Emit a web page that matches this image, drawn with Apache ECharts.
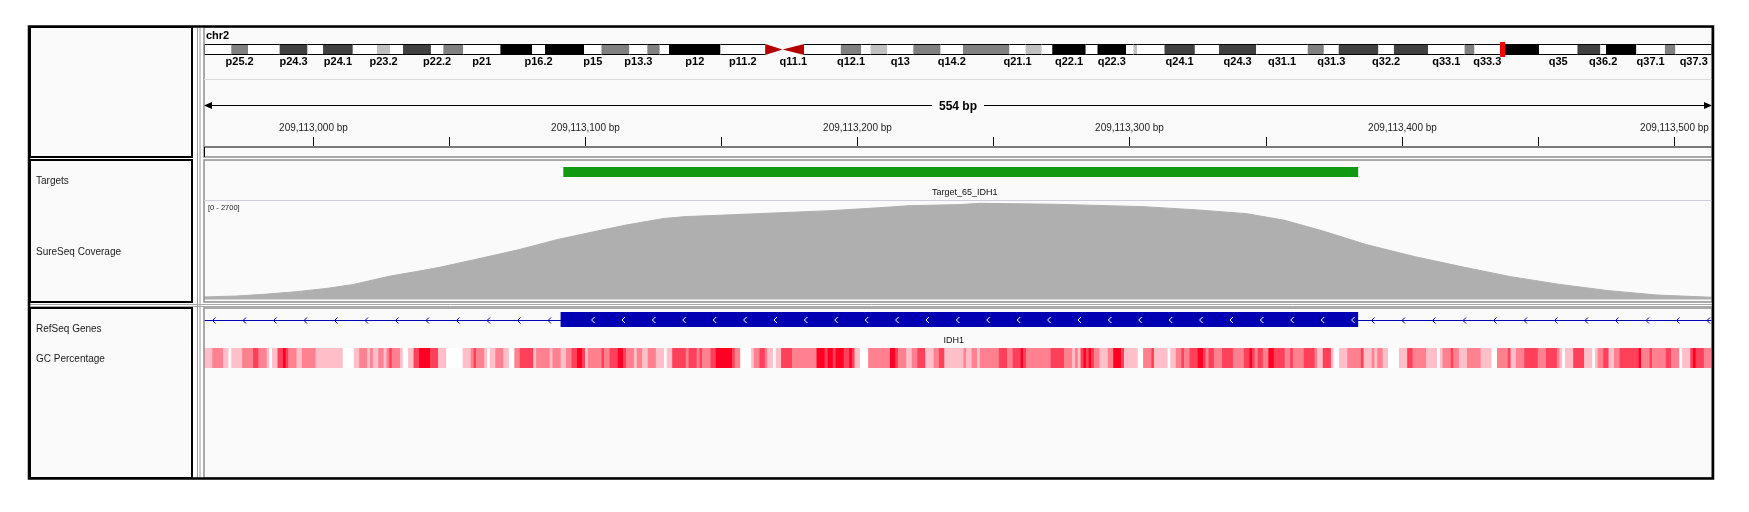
<!DOCTYPE html>
<html>
<head>
<meta charset="utf-8">
<script src="https://cdn.jsdelivr.net/npm/echarts@6/dist/echarts.min.js"></script>
<style>
  html, body { margin: 0; padding: 0; background: #fff; }
  #chart { width: 1749px; height: 512px; }
</style>
</head>
<body>
<div id="chart"></div>
<script>
// chromosome ideogram (hg19 chr2 cytobands)
const chrName = 'chr2';
const chrLength = 243199373;
const bandStarts = [0, 4400000, 7100000, 12200000, 16700000, 19200000, 24000000, 27900000, 30000000,
  32100000, 36600000, 38600000, 41800000, 47800000, 52900000, 55000000, 61300000, 64100000, 68600000,
  71500000, 73500000, 75000000, 83300000, 90500000, 93300000, 96800000, 102700000, 106000000, 107500000,
  110200000, 114400000, 118800000, 122400000, 129900000, 132500000, 135100000, 136800000, 142200000,
  144100000, 148700000, 149900000, 150500000, 154900000, 159800000, 163700000, 169700000, 178000000,
  180600000, 183000000, 189400000, 191900000, 197400000, 203300000, 204900000, 209000000, 215300000,
  221500000, 225200000, 226100000, 231000000, 235600000, 237300000];
const bandNames = ['p25.3', 'p25.2', 'p25.1', 'p24.3', 'p24.2', 'p24.1', 'p23.3', 'p23.2', 'p23.1',
  'p22.3', 'p22.2', 'p22.1', 'p21', 'p16.3', 'p16.2', 'p16.1', 'p15', 'p14', 'p13.3', 'p13.2', 'p13.1',
  'p12', 'p11.2', 'p11.1', 'q11.1', 'q11.2', 'q12.1', 'q12.2', 'q12.3', 'q13', 'q14.1', 'q14.2', 'q14.3',
  'q21.1', 'q21.2', 'q21.3', 'q22.1', 'q22.2', 'q22.3', 'q23.1', 'q23.2', 'q23.3', 'q24.1', 'q24.2',
  'q24.3', 'q31.1', 'q31.2', 'q31.3', 'q32.1', 'q32.2', 'q32.3', 'q33.1', 'q33.2', 'q33.3', 'q34', 'q35',
  'q36.1', 'q36.2', 'q36.3', 'q37.1', 'q37.2', 'q37.3'];
const bandStains = ['gneg', 'gpos50', 'gneg', 'gpos75', 'gneg', 'gpos75', 'gneg', 'gpos25', 'gneg',
  'gpos75', 'gneg', 'gpos50', 'gneg', 'gpos100', 'gneg', 'gpos100', 'gneg', 'gpos50', 'gneg', 'gpos50',
  'gneg', 'gpos100', 'gneg', 'acen', 'acen', 'gneg', 'gpos50', 'gneg', 'gpos25', 'gneg', 'gpos50', 'gneg',
  'gpos50', 'gneg', 'gpos25', 'gneg', 'gpos100', 'gneg', 'gpos100', 'gneg', 'gpos25', 'gneg', 'gpos75',
  'gneg', 'gpos75', 'gneg', 'gpos50', 'gneg', 'gpos75', 'gneg', 'gpos75', 'gneg', 'gpos50', 'gneg',
  'gpos100', 'gneg', 'gpos75', 'gneg', 'gpos100', 'gneg', 'gpos50', 'gneg'];
const labeledBands = ['p25.2', 'p24.3', 'p24.1', 'p23.2', 'p22.2', 'p21', 'p16.2', 'p15', 'p13.3', 'p12',
  'p11.2', 'q11.1', 'q12.1', 'q13', 'q14.2', 'q21.1', 'q22.1', 'q22.3', 'q24.1', 'q24.3', 'q31.1', 'q31.3',
  'q32.2', 'q33.1', 'q33.3', 'q35', 'q36.2', 'q37.1', 'q37.3'];

// visible locus
const viewStart = 209112960;
const viewEnd = 209113514;
const rulerTicks = [209113000, 209113050, 209113100, 209113150, 209113200, 209113250, 209113300,
  209113350, 209113400, 209113450, 209113500];

// tracks
const trackNames = ['Targets', 'SureSeq Coverage', 'RefSeq Genes', 'GC Percentage'];
const targetName = 'Target_65_IDH1';
const targetStart = 209113092;
const targetEnd = 209113384;
const geneName = 'IDH1';
const exonStart = 209113091;
const exonEnd = 209113384;

const coverageMax = 2700;
const covOffset = [0, 12, 22, 34, 45, 55, 68, 79, 87, 98, 109, 116, 130, 144, 155, 169, 177, 194, 212,
  230, 248, 259, 278, 285, 312, 345, 365, 383, 397, 411, 427, 445, 463, 480, 498, 516, 534, 554];
const covDepth = [68, 95, 140, 212, 300, 410, 630, 770, 880, 1060, 1240, 1360, 1630, 1850, 2020, 2200,
  2250, 2300, 2355, 2410, 2490, 2545, 2575, 2610, 2585, 2520, 2430, 2330, 2150, 1860, 1490, 1160, 875,
  620, 410, 240, 120, 60];

// GC runs: [startOffset, endOffset, level 0-4]
const gcRuns = [
  [0,3,1],[3,7,2],[7,9,1],[9,10,0],[10,14,1],[14,18,2],[18,20,3],[20,23,2],[23,24,1],[24,25,0],
  [25,27,1],[27,29,3],[29,30,4],[30,31,3],[31,34,2],[34,36,1],[36,41,2],[41,51,1],[51,55,0],[55,57,1],
  [57,60,2],[60,61,1],[61,62,2],[62,64,1],[64,66,2],[66,67,1],[67,68,2],[68,69,3],[69,72,2],[72,73,1],
  [73,75,0],[75,77,1],[77,79,3],[79,83,4],[83,86,3],[86,89,1],[89,95,0],[95,98,1],[98,99,2],[99,100,3],
  [100,103,2],[103,104,1],[104,105,0],[105,107,1],[107,110,2],[110,112,1],[112,114,0],[114,116,2],
  [116,121,3],[121,122,1],[122,127,2],[127,128,1],[128,131,2],[131,133,1],[133,135,2],[135,137,3],
  [137,139,4],[139,140,3],[140,141,1],[141,146,2],[146,147,3],[147,149,2],[149,152,3],[152,154,4],
  [154,155,3],[155,158,2],[158,159,1],[159,161,2],[161,163,1],[163,166,2],[166,169,1],[169,170,0],
  [170,172,1],[172,177,3],[177,178,2],[178,181,3],[181,182,2],[182,183,3],[183,186,2],
  [186,188,3],[188,194,4],[194,195,3],[195,197,2],[197,201,0],[201,202,1],[202,204,2],[204,206,3],
  [206,207,2],[207,209,1],[209,210,0],[210,212,1],[212,216,3],[216,225,2],[225,228,4],[228,229,3],
  [229,231,4],[231,232,3],[232,235,4],[235,237,3],[237,238,4],[238,239,3],[239,241,1],[241,244,0],
  [244,252,2],[252,254,4],[254,255,3],[255,258,2],[258,260,1],[260,262,2],[262,265,3],[265,268,1],
  [268,270,2],[270,272,3],[272,279,1],[279,280,2],[280,282,1],[282,284,2],[284,285,1],[285,292,2],
  [292,295,3],[295,297,2],[297,300,3],[300,301,4],[301,302,3],[302,311,2],[311,316,3],[316,319,2],
  [319,320,1],[320,321,2],[321,322,1],[322,323,3],[323,324,4],[324,325,3],[325,326,4],[326,327,3],
  [327,329,2],[329,332,1],[332,334,2],[334,337,4],[337,338,3],[338,343,1],[343,345,0],[345,348,2],
  [348,349,3],[349,354,1],[354,355,0],[355,357,1],[357,359,2],[359,360,3],[360,362,2],[362,365,3],
  [365,367,4],[367,368,3],[368,369,2],[369,371,3],
  [371,374,2],[374,378,3],[378,382,2],[382,384,3],[384,385,4],[385,386,3],[386,387,2],[387,389,3],
  [389,391,2],[391,393,4],[393,397,3],[397,399,2],[399,400,3],[400,404,2],[404,408,3],[408,409,2],
  [409,411,1],[411,414,3],[414,415,1],[415,417,0],[417,420,1],[420,425,2],[425,426,3],[426,429,1],
  [429,430,2],[430,431,1],[431,433,2],[433,435,1],[435,439,0],[439,442,1],[442,444,3],[444,449,2],
  [449,453,1],[453,454,0],[454,455,1],[455,458,2],[458,459,3],[459,461,2],[461,464,1],[464,469,2],
  [469,473,1],[473,475,0],[475,479,2],[479,480,3],[480,482,1],[482,485,2],[485,490,3],[490,493,2],
  [493,497,3],[497,498,2],[498,499,1],[499,500,0],[500,503,1],[503,507,3],[507,510,1],[510,511,0],
  [511,512,1],[512,514,2],[514,516,3],[516,518,1],[518,520,2],[520,527,3],[527,528,4],[528,531,2],
  [531,532,3],[532,537,2],[537,539,3],[539,542,2],[542,543,0],[543,546,1],[546,547,3],[547,548,4],
  [548,551,3],[551,554,2]
];

// ---- styling ----
const BG = '#fafafa';
const TRACK_L = 204;
const TRACK_W = 1508;
const SANS = '"Liberation Sans", Arial, sans-serif';
const stainColor = { gneg: '#ffffff', gpos25: '#c0c0c0', gpos50: '#808080', gpos75: '#404040', gpos100: '#000000' };
const gcColors = ['#ffffff', '#ffbfc8', '#ff808f', '#ff405a', '#ff0024'];

const chart = echarts.init(document.getElementById('chart'), null, { renderer: 'canvas' });

const gridBoxes = [
  { top: 44, height: 11 },   // ideogram
  { top: 95, height: 52 },   // ruler
  { top: 160, height: 40 },  // targets
  { top: 200, height: 99.5 },// coverage
  { top: 308, height: 30 },  // genes
  { top: 348, height: 20 },  // gc
];

const grids = gridBoxes.map((g) => ({ left: TRACK_L, width: TRACK_W, top: g.top, height: g.height }));
const xAxes = gridBoxes.map((g, i) => ({
  type: 'value', gridIndex: i, show: false,
  min: i === 0 ? 0 : viewStart, max: i === 0 ? chrLength : viewEnd,
}));
const yAxes = gridBoxes.map((g, i) => ({
  type: 'value', gridIndex: i, show: false, min: 0, max: i === 3 ? coverageMax : 1,
}));

function renderBand(params, api) {
  const i = params.dataIndex;
  const cs = params.coordSys;
  const x0 = api.coord([api.value(0), 0])[0];
  const x1 = api.coord([api.value(1), 0])[0];
  const top = cs.y, h = cs.height, bottom = cs.y + cs.height;
  const children = [];
  if (bandStains[i] === 'acen') {
    const pts = bandNames[i][0] === 'p'
      ? [[x0, top], [x0, bottom], [x1, top + h / 2]]
      : [[x1, top], [x1, bottom], [x0, top + h / 2]];
    children.push({ type: 'polygon', shape: { points: pts }, style: { fill: '#b40000' } });
  } else {
    children.push({ type: 'rect', shape: { x: x0, y: top, width: x1 - x0, height: h }, style: { fill: stainColor[bandStains[i]] } });
    children.push({ type: 'line', shape: { x1: x0, y1: top + 0.5, x2: x1, y2: top + 0.5 }, style: { stroke: '#000', lineWidth: 1 } });
    children.push({ type: 'line', shape: { x1: x0, y1: bottom - 0.5, x2: x1, y2: bottom - 0.5 }, style: { stroke: '#000', lineWidth: 1 } });
  }
  if (i === 0) children.push({ type: 'line', shape: { x1: x0 + 0.5, y1: top, x2: x0 + 0.5, y2: bottom }, style: { stroke: '#000' } });
  if (i === bandNames.length - 1) children.push({ type: 'line', shape: { x1: x1 - 0.5, y1: top, x2: x1 - 0.5, y2: bottom }, style: { stroke: '#000' } });
  if (labeledBands.includes(bandNames[i])) {
    children.push({
      type: 'text',
      style: { text: bandNames[i], x: (x0 + x1) / 2, y: bottom + 7, align: 'center', verticalAlign: 'middle', fill: '#000', font: 'bold 11px ' + SANS },
    });
  }
  return { type: 'group', children };
}

function renderRegionMarker(params, api) {
  const cs = params.coordSys;
  const x0 = api.coord([api.value(0), 0])[0];
  const x1 = api.coord([api.value(1), 0])[0];
  const w = Math.max(5, x1 - x0);
  const cx = (x0 + x1) / 2;
  return { type: 'rect', shape: { x: cx - w / 2 + 2, y: cs.y - 2, width: w, height: cs.height + 4 }, style: { fill: '#ff0000' } };
}

function renderTick(params, api) {
  const pos = api.value(0);
  const cs = params.coordSys;
  const bottom = cs.y + cs.height;
  const x = Math.round(api.coord([pos, 0])[0]) + 0.5;
  const children = [{ type: 'line', shape: { x1: x, y1: bottom - 10, x2: x, y2: bottom - 1 }, style: { stroke: '#000', lineWidth: 1 } }];
  if (pos % 100 === 0) {
    children.push({
      type: 'text',
      style: { text: pos.toLocaleString('en-US') + ' bp', x, y: bottom - 19, align: 'center', verticalAlign: 'middle', fill: '#222', font: '10px ' + SANS },
    });
  }
  return { type: 'group', children };
}

function renderSpan(params, api) {
  const cs = params.coordSys;
  const x0 = api.coord([api.value(0), 0])[0];
  const x1 = api.coord([api.value(1), 0])[0];
  const y = cs.y + 10.5;
  return {
    type: 'group',
    children: [
      { type: 'line', shape: { x1: x0, y1: y, x2: x1, y2: y }, style: { stroke: '#000', lineWidth: 1 } },
      { type: 'polygon', shape: { points: [[x0, y], [x0 + 8, y - 3.5], [x0 + 8, y + 3.5]] }, style: { fill: '#000' } },
      { type: 'polygon', shape: { points: [[x1, y], [x1 - 8, y - 3.5], [x1 - 8, y + 3.5]] }, style: { fill: '#000' } },
      {
        type: 'text',
        style: {
          text: (api.value(1) - api.value(0)) + ' bp', x: (x0 + x1) / 2, y: y + 1, align: 'center', verticalAlign: 'middle',
          fill: '#000', font: 'bold 12px ' + SANS, backgroundColor: BG, padding: [0, 7],
        },
      },
    ],
  };
}

function renderTarget(params, api) {
  const cs = params.coordSys;
  const x0 = api.coord([api.value(0), 0])[0];
  const x1 = api.coord([api.value(1), 0])[0];
  return {
    type: 'group',
    children: [
      { type: 'rect', shape: { x: x0, y: cs.y + 7, width: x1 - x0, height: 10 }, style: { fill: '#119a11' } },
      {
        type: 'text',
        style: { text: targetName, x: (x0 + x1) / 2 + 4, y: cs.y + 33, align: 'center', verticalAlign: 'middle', fill: '#111', font: '9px ' + SANS },
      },
    ],
  };
}

function chevron(x, y, color) {
  return { type: 'polyline', shape: { points: [[x + 2, y - 3], [x - 1, y], [x + 2, y + 3]] }, style: { stroke: color, lineWidth: 1, fill: null } };
}

function renderGene(params, api) {
  const cs = params.coordSys;
  const x0 = api.coord([api.value(0), 0])[0];
  const x1 = api.coord([api.value(1), 0])[0];
  const lineY = cs.y + 12.5;
  const blue = '#0000b2';
  const children = [
    { type: 'line', shape: { x1: cs.x, y1: lineY, x2: cs.x + cs.width, y2: lineY }, style: { stroke: blue, lineWidth: 1 } },
  ];
  for (let x = cs.x + 9.5; x < cs.x + cs.width - 2; x += 30.5) {
    if (x > x0 - 4 && x < x1 + 4) continue;
    children.push(chevron(x, lineY, blue));
  }
  children.push({ type: 'rect', shape: { x: x0, y: cs.y + 4, width: x1 - x0, height: 15 }, style: { fill: blue } });
  for (let x = x0 + 32; x < x1 - 4; x += 30.4) children.push(chevron(x, lineY - 0.5, '#ffffff'));
  children.push({
    type: 'text',
    style: { text: geneName, x: (cs.x + cs.width / 2 + (x0 + x1) / 2) / 2 - 5, y: cs.y + 33, align: 'center', verticalAlign: 'middle', fill: '#111', font: '9px ' + SANS },
  });
  return { type: 'group', children };
}

function renderGc(params, api) {
  const cs = params.coordSys;
  const x0 = api.coord([viewStart + api.value(0), 0])[0];
  const x1 = api.coord([viewStart + api.value(1), 0])[0];
  return { type: 'rect', shape: { x: x0, y: cs.y, width: x1 - x0 + 0.4, height: cs.height }, style: { fill: gcColors[api.value(2)] } };
}

// ---- frames ----
const rows = [[27, 157], [160, 302], [308, 478]];
const frame = [];
rows.forEach(([t, b]) => {
  frame.push({ type: 'rect', z: -10, shape: { x: 30, y: t, width: 162, height: b - t }, style: { fill: BG, stroke: '#000', lineWidth: 2 } });
  frame.push({ type: 'rect', z: -10, shape: { x: TRACK_L, y: t, width: TRACK_W, height: b - t }, style: { fill: BG } });
  frame.push({ type: 'rect', z: 50, silent: true, shape: { x: TRACK_L, y: t, width: TRACK_W, height: b - t }, style: { fill: null, stroke: '#8f8f8f', lineWidth: 1.5 } });
});
frame.push({ type: 'line', z: 50, shape: { x1: 197.5, y1: 27, x2: 197.5, y2: 478 }, style: { stroke: '#9a9a9a', lineWidth: 1 } });
frame.push({ type: 'line', z: 50, shape: { x1: 200, y1: 27, x2: 200, y2: 478 }, style: { stroke: '#9a9a9a', lineWidth: 1 } });
frame.push({ type: 'line', z: 50, shape: { x1: 30, y1: 304.5, x2: 1713, y2: 304.5 }, style: { stroke: '#a8a8a8', lineWidth: 1 } });
frame.push({ type: 'line', z: 50, shape: { x1: 30, y1: 306.5, x2: 1713, y2: 306.5 }, style: { stroke: '#a8a8a8', lineWidth: 1 } });
frame.push({ type: 'line', z: 50, shape: { x1: TRACK_L, y1: 79.5, x2: TRACK_L + TRACK_W, y2: 79.5 }, style: { stroke: '#dcdcdc', lineWidth: 1 } });
frame.push({ type: 'line', z: 50, shape: { x1: TRACK_L, y1: 147, x2: TRACK_L + TRACK_W, y2: 147 }, style: { stroke: '#7a7a7a', lineWidth: 2 } });
frame.push({ type: 'line', z: 50, shape: { x1: TRACK_L + 0.5, y1: 147, x2: TRACK_L + 0.5, y2: 157 }, style: { stroke: '#000', lineWidth: 1 } });
frame.push({ type: 'line', z: 50, shape: { x1: TRACK_L, y1: 200.5, x2: TRACK_L + TRACK_W, y2: 200.5 }, style: { stroke: '#cfcfd8', lineWidth: 1 } });
frame.push({ type: 'rect', z: 60, silent: true, shape: { x: 29, y: 26.5, width: 1684, height: 452 }, style: { fill: null, stroke: '#000', lineWidth: 2.5 } });

const labelY = [181, 252, 329, 359];
trackNames.forEach((name, i) => {
  frame.push({ type: 'text', z: 60, x: 36, y: labelY[i], style: { text: name, fill: '#1a1a1a', font: '10px ' + SANS, verticalAlign: 'middle' } });
});
frame.push({ type: 'text', z: 60, x: 206, y: 36, style: { text: chrName, fill: '#000', font: 'bold 11px ' + SANS, verticalAlign: 'middle' } });
frame.push({ type: 'text', z: 60, x: 208, y: 208, style: { text: '[0 - ' + coverageMax + ']', fill: '#222', font: '7.5px ' + SANS, verticalAlign: 'middle' } });

chart.setOption({
  animation: false,
  backgroundColor: '#ffffff',
  grid: grids,
  xAxis: xAxes,
  yAxis: yAxes,
  graphic: { elements: frame },
  series: [
    {
      type: 'custom', xAxisIndex: 0, yAxisIndex: 0, clip: false, renderItem: renderBand,
      encode: { x: [0, 1], y: 2 },
      data: bandStarts.map((s, i) => [s, i + 1 < bandStarts.length ? bandStarts[i + 1] : chrLength, 0]),
    },
    {
      type: 'custom', xAxisIndex: 0, yAxisIndex: 0, clip: false, renderItem: renderRegionMarker, z: 5,
      encode: { x: [0, 1], y: 2 }, data: [[viewStart, viewEnd, 0]],
    },
    {
      type: 'custom', xAxisIndex: 1, yAxisIndex: 1, clip: false, renderItem: renderTick,
      encode: { x: 0, y: 1 }, data: rulerTicks.map((t) => [t, 0]),
    },
    {
      type: 'custom', xAxisIndex: 1, yAxisIndex: 1, clip: false, renderItem: renderSpan,
      encode: { x: [0, 1], y: 2 }, data: [[viewStart, viewEnd, 0]],
    },
    {
      type: 'custom', xAxisIndex: 2, yAxisIndex: 2, clip: false, renderItem: renderTarget,
      encode: { x: [0, 1], y: 2 }, data: [[targetStart, targetEnd, 0]],
    },
    {
      type: 'line', xAxisIndex: 3, yAxisIndex: 3, showSymbol: false, silent: true,
      lineStyle: { color: '#afafaf', width: 1 }, areaStyle: { color: '#afafaf', opacity: 1 },
      data: covOffset.map((o, i) => [viewStart + o, covDepth[i]]),
    },
    {
      type: 'custom', xAxisIndex: 4, yAxisIndex: 4, clip: false, renderItem: renderGene,
      encode: { x: [0, 1], y: 2 }, data: [[exonStart, exonEnd, 0]],
    },
    {
      type: 'custom', xAxisIndex: 5, yAxisIndex: 5, clip: true, renderItem: renderGc,
      encode: { x: [0, 1], y: 2 }, data: gcRuns.map((r) => [r[0], r[1], r[2]]),
    },
  ],
});
</script>
</body>
</html>
